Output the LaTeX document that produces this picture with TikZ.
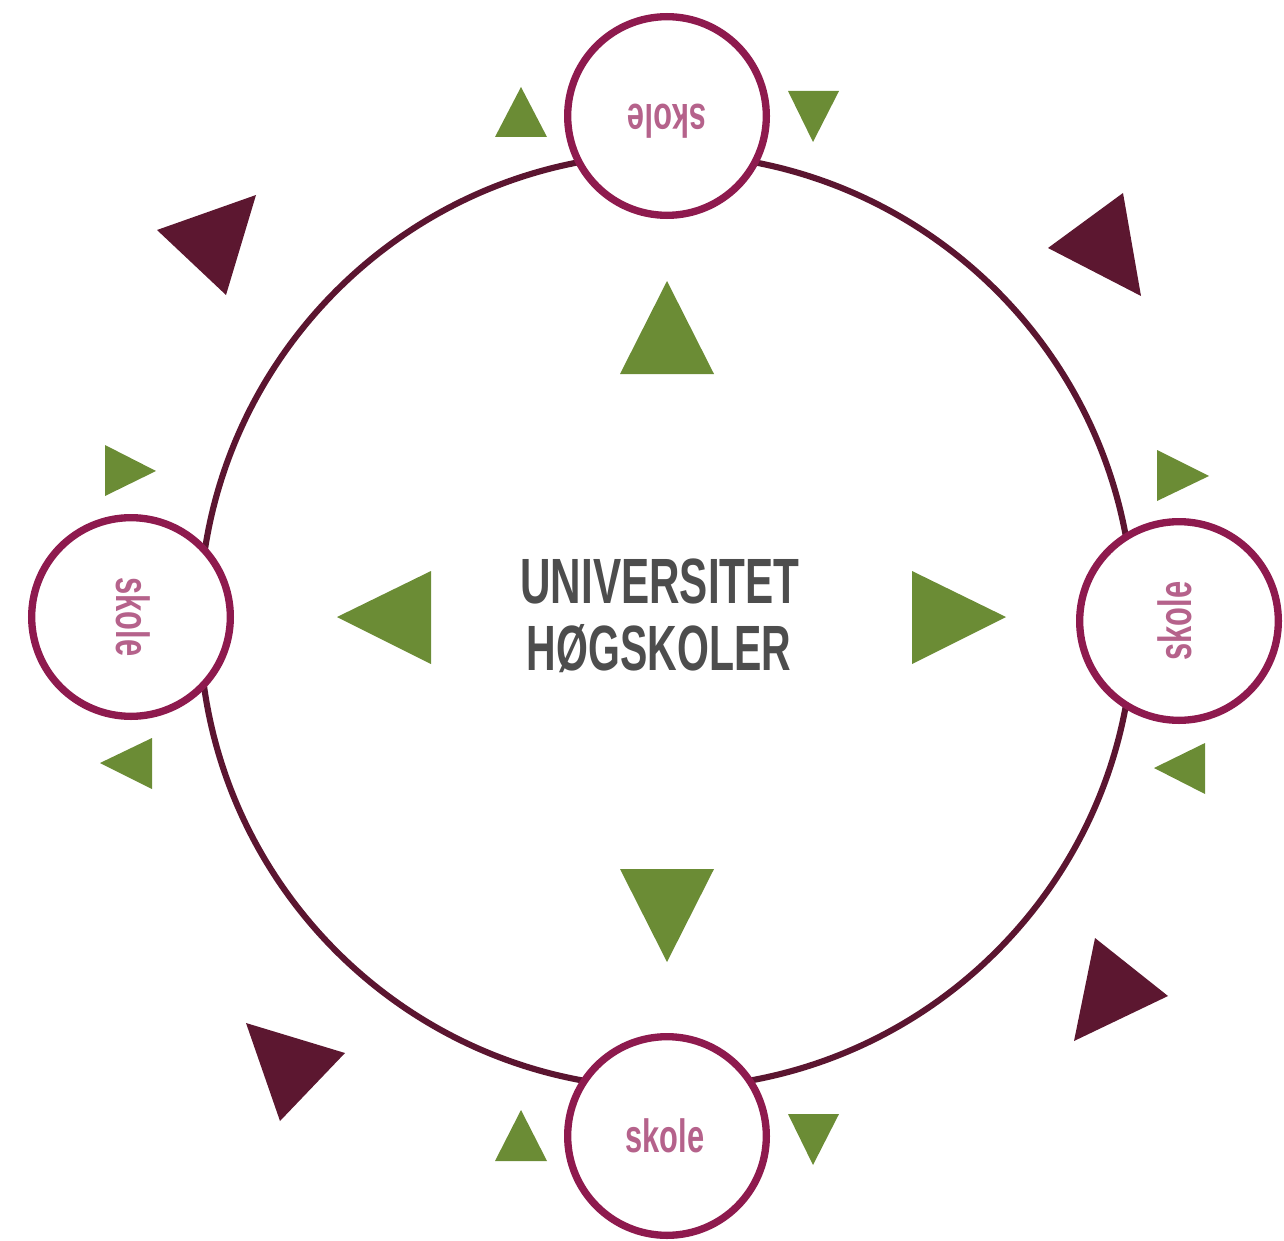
\documentclass[tikz,border=0pt]{standalone}
\usepackage{fontspec}
\newfontfamily\condfont[FakeStretch=0.66]{Liberation Sans Bold}
\definecolor{leaf}{RGB}{107,140,53}
\definecolor{wine}{RGB}{92,23,48}
\definecolor{ringline}{RGB}{91,21,48}
\definecolor{plum}{RGB}{142,26,78}
\definecolor{rose}{RGB}{181,98,139}
\definecolor{slate}{RGB}{77,77,77}
\tikzset{
  greentri/.style={fill=leaf, draw=none},
  winetri/.style={fill=wine, draw=none},
  school/.style={circle, draw=plum, line width=5.5pt, fill=white, minimum size=149pt, inner sep=0pt},
  schooltext/.style={text=rose, font=\condfont\fontsize{35}{35}\selectfont, inner sep=0pt, text depth=0pt},
  centertext/.style={text=slate, font=\condfont\fontsize{48}{50}\selectfont, inner sep=0pt, anchor=base}
}
\begin{document}
\begin{tikzpicture}[x=0.75pt, y=-0.75pt]
\useasboundingbox (0,0) rectangle (1284,1241);
% big ring
\node[circle, draw=ringline, line width=4.6pt, minimum size=700.5pt, inner sep=0pt] (ring) at (666.5,621) {};
% central text
\node[centertext] (uni) at (660,603) {UNIVERSITET};
\node[centertext, xscale=0.97] (hog) at (659,670) {HØGSKOLER};
% inner large triangles
\path[greentri] (620,374) -- (714,374) -- (667,281) -- cycle;
\path[greentri] (431,571) -- (431,664) -- (337,617) -- cycle;
\path[greentri] (912,571) -- (912,664) -- (1006,617) -- cycle;
\path[greentri] (620,869) -- (714,869) -- (667,962) -- cycle;
% small green triangles
\path[greentri] (495,137) -- (547,137) -- (521,87) -- cycle;
\path[greentri] (788,91) -- (839,91) -- (813,142) -- cycle;
\path[greentri] (1157,450) -- (1157,501) -- (1209,476) -- cycle;
\path[greentri] (1205,743) -- (1205,794) -- (1154,768) -- cycle;
\path[greentri] (495,1161) -- (547,1161) -- (521,1110) -- cycle;
\path[greentri] (788,1114) -- (839,1114) -- (813,1165) -- cycle;
\path[greentri] (105,445) -- (105,496) -- (156,471) -- cycle;
\path[greentri] (152,738) -- (152,789) -- (100,763) -- cycle;
% wine triangles
\path[winetri] (157,230) -- (256,195) -- (226,295) -- cycle;
\path[winetri] (1048,248) -- (1123,193) -- (1141,296) -- cycle;
\path[winetri] (1095,938) -- (1168,996) -- (1074,1041) -- cycle;
\path[winetri] (246,1023) -- (345,1053) -- (280,1121) -- cycle;
% school circles
\node[school] (top) at (667,116) {};
\node[school] (right) at (1179,621) {};
\node[school] (bottom) at (667,1136) {};
\node[school] (left) at (131,617) {};
\node[schooltext, rotate=180] (toptext) at (667,121) {skole};
\node[schooltext, rotate=90] (righttext) at (1175,621) {skole};
\node[schooltext] (bottomtext) at (665,1136) {skole};
\node[schooltext, rotate=-90] (lefttext) at (133,617) {skole};
\end{tikzpicture}
\end{document}
